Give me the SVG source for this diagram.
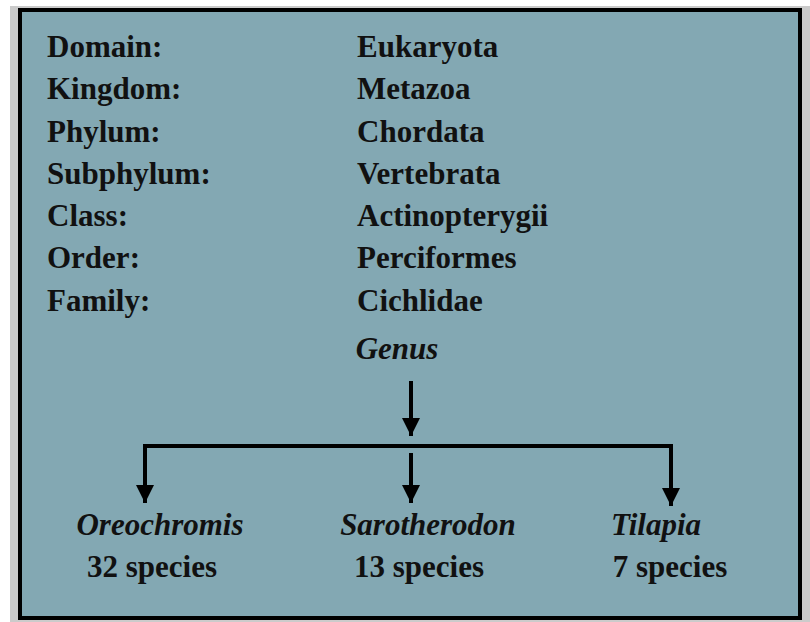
<svg xmlns="http://www.w3.org/2000/svg" width="810" height="622" viewBox="0 0 810 622">
<style>
text{font-family:"Liberation Serif","Times New Roman",serif;font-weight:bold;font-size:31px;fill:#111}
.it{font-style:italic}
.ln{stroke:#000;stroke-width:4;fill:none}
</style>
<defs>
<marker id="ah" viewBox="0 0 10 10" refX="10" refY="5" markerWidth="4.5" markerHeight="4.5" markerUnits="strokeWidth" orient="auto">
<path d="M0,0 L10,5 L0,10 Z" fill="#000"/>
</marker>
</defs>
<rect x="0" y="0" width="810" height="622" fill="#fff"/>
<rect x="10" y="6" width="800" height="616" fill="#cbcbcb"/>
<rect x="20" y="10" width="780" height="608" fill="#83a8b3" stroke="#000" stroke-width="4"/>
<g id="ranks">
<text x="47" y="57">Domain:</text>
<text x="47" y="99">Kingdom:</text>
<text x="47" y="142">Phylum:</text>
<text x="47" y="184">Subphylum:</text>
<text x="47" y="226">Class:</text>
<text x="47" y="268">Order:</text>
<text x="47" y="311">Family:</text>
</g>
<g id="values">
<text x="357" y="57">Eukaryota</text>
<text x="357" y="99">Metazoa</text>
<text x="357" y="142">Chordata</text>
<text x="357" y="184">Vertebrata</text>
<text x="357" y="226">Actinopterygii</text>
<text x="357" y="268">Perciformes</text>
<text x="357" y="311">Cichlidae</text>
</g>
<g id="genus"><text class="it" x="397" y="359" text-anchor="middle">Genus</text></g>
<g id="connectors">
<line class="ln" x1="411" y1="381" x2="411" y2="436" marker-end="url(#ah)"/>
<polyline class="ln" points="145,503 145,446 671,446 671,506" marker-end="url(#ah)"/>
<line class="ln" x1="145" y1="446" x2="145" y2="503" marker-end="url(#ah)"/>
<line class="ln" x1="411" y1="453" x2="411" y2="503" marker-end="url(#ah)"/>
</g>
<g id="oreochromis">
<text class="it" x="160" y="535" text-anchor="middle">Oreochromis</text>
<text x="152" y="577" text-anchor="middle">32 species</text>
</g>
<g id="sarotherodon">
<text class="it" x="428" y="535" text-anchor="middle">Sarotherodon</text>
<text x="419" y="577" text-anchor="middle">13 species</text>
</g>
<g id="tilapia">
<text class="it" x="656" y="535" text-anchor="middle">Tilapia</text>
<text x="670" y="577" text-anchor="middle">7 species</text>
</g>
</svg>
